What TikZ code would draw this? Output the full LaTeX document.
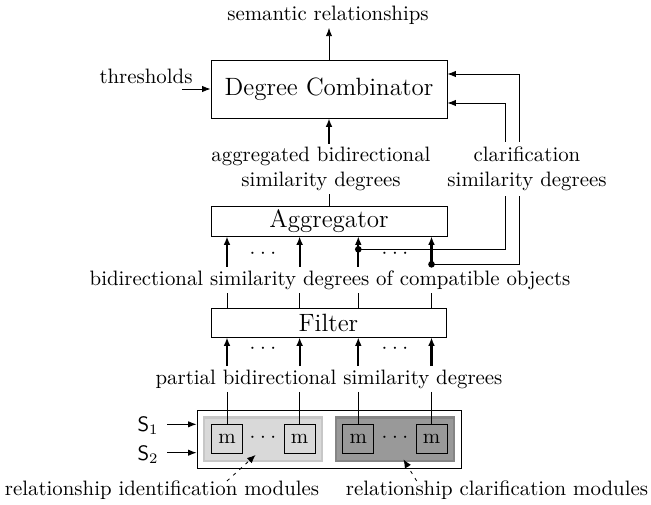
\documentclass[tikz,border=0pt]{standalone}
\usetikzlibrary{arrows.meta,calc}
\newcommand\threedots{${\cdot}\:{\cdot}\:{\cdot}$}
\begin{document}
\begin{tikzpicture}[x=0.4796pt,y=-0.4796pt,
  lbl/.style={inner sep=1.5pt},
  box/.style={draw,line width=0.4pt,inner sep=0pt,font=\large},
  mbox/.style={draw,line width=0.4pt,inner sep=0pt,minimum width=31*0.4796pt,minimum height=29*0.4796pt},
  lightgrp/.style={draw=black!22,fill=black!15,line width=1.2pt,inner sep=0pt},
  darkgrp/.style={draw=black!48,fill=black!40,line width=1.2pt,inner sep=0pt},
  thinarrow/.style={line width=0.4pt,-{Latex[length=4pt,width=3pt]}},
  thickarrow/.style={line width=1pt,-{Latex[length=4pt,width=3.2pt]}},
  plain/.style={line width=0.4pt},
  dasharrow/.style={line width=0.4pt,dash pattern=on 1.6pt off 2.4pt,-{Latex[length=4pt,width=3.4pt]}},
  fbdot/.style={fill=black},
  dotsnode/.style={inner sep=0pt}
]
\useasboundingbox (0,0) rectangle (651,505);

% column positions of the module outputs
\coordinate (col1) at (227,0);
\coordinate (col2) at (299.6,0);
\coordinate (col3) at (358.3,0);
\coordinate (col4) at (431.5,0);

% ---- Degree Combinator ----
\node[box,minimum width=236*0.4796pt,minimum height=58*0.4796pt] (dc) at (329,89) {Degree Combinator};
\node[lbl] (sem) at (328,15) {semantic relationships};
\node[lbl] (thr) at (146,76) {thresholds};
\coordinate (thrtail) at (182,89);
\draw[thinarrow] (thrtail) -- (dc.west);
\draw[thinarrow] (dc.north) -- (dc.north |- sem.south);

% ---- Aggregator ----
\node[lbl,align=center] (aggtxt) at (321,169) {aggregated bidirectional\\similarity degrees};
\draw[thickarrow] (dc.south |- aggtxt.north) -- (dc.south);
\node[box,minimum width=236*0.4796pt,minimum height=30*0.4796pt] (agg) at (329,221) {Aggregator};
\draw[plain] (agg.north |- aggtxt.south) -- (agg.north);

\node[lbl] (bsd) at (330,280) {bidirectional similarity degrees of compatible objects};
\foreach \i in {1,...,4}
  \draw[thickarrow] (col\i |- bsd.north) -- (col\i |- agg.south);
\node[dotsnode] (adots1) at (263,254) {\threedots};
\node[dotsnode] (adots2) at (395,254) {\threedots};

% ---- feedback of the clarification degrees ----
\coordinate (fa) at ($(col3)+(0,249.3)$);
\coordinate (fb) at ($(col4)+(0,264.3)$);
\draw[thinarrow] (fa) -| ($(dc.east)+(58,14)$) -- ($(dc.east)+(0,14)$);
\draw[thinarrow] (fb) -| ($(dc.east)+(72,-15)$) -- ($(dc.east)+(0,-15)$);
\fill[fbdot] (fa) circle (1.6pt);
\fill[fbdot] (fb) circle (1.6pt);
\node[lbl,align=center,fill=white,inner sep=2.5pt] (clar) at (527,169) {clarification\\similarity degrees};

% ---- Filter ----
\node[box,minimum width=235*0.4796pt,minimum height=29*0.4796pt] (fil) at (328.5,322.5) {Filter};
\foreach \i in {1,...,4}
  \draw[plain] (col\i |- bsd.south) -- (col\i |- fil.north);
\node[lbl] (pbsd) at (329,379) {partial bidirectional similarity degrees};
\foreach \i in {1,...,4}
  \draw[thickarrow] (col\i |- pbsd.north) -- (col\i |- fil.south);
\node[dotsnode] (fdots1) at (263,349) {\threedots};
\node[dotsnode] (fdots2) at (395,349) {\threedots};

% ---- relationship modules ----
\node[draw,line width=0.4pt,inner sep=0pt,minimum width=264.5*0.4796pt,minimum height=58*0.4796pt] (mods) at (329.2,439) {};
\node[lightgrp,minimum width=117.7*0.4796pt,minimum height=43.7*0.4796pt] (idg) at (262.9,439.2) {};
\node[darkgrp,minimum width=118*0.4796pt,minimum height=43.7*0.4796pt] (clg) at (395,439.2) {};
\node[mbox,fill=black!15] (m1) at (227,438.7) {m};
\node[mbox,fill=black!15] (m2) at (299.6,438.7) {m};
\node[mbox,fill=black!40] (m3) at (358.3,438.7) {m};
\node[mbox,fill=black!40] (m4) at (431.5,438.7) {m};
\node[dotsnode] (mdots1) at (263,438) {\threedots};
\node[dotsnode] (mdots2) at (395,438) {\threedots};
\foreach \i in {1,...,4}
  \draw[plain] (col\i |- pbsd.south) -- (m\i.north);

% inputs
\node[lbl] (s1) at (148,426) {$\mathsf{S}_1$};
\node[lbl] (s2) at (148,454.5) {$\mathsf{S}_2$};
\coordinate (s1t) at (167,424.3);
\coordinate (s2t) at (167,452.7);
\draw[thinarrow] (s1t) -- (s1t -| mods.west);
\draw[thinarrow] (s2t) -- (s2t -| mods.west);

% module group captions
\node[lbl] (idtxt) at (162,490) {relationship identification modules};
\node[lbl] (cltxt) at (497,490) {relationship clarification modules};
\coordinate (idtail) at (227,481);
\coordinate (idtip) at (255.5,455);
\coordinate (cltail) at (416.7,481);
\coordinate (cltip) at (403.5,459.5);
\draw[dasharrow] (idtail) -- (idtip);
\draw[dasharrow] (cltail) -- (cltip);
\end{tikzpicture}
\end{document}
